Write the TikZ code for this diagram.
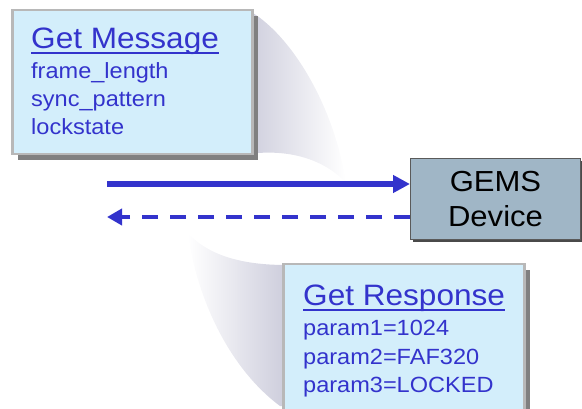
\documentclass[tikz,border=0pt]{standalone}
\usepackage{fontspec}
\setmainfont{Liberation Sans}[FakeStretch=1.07]
\usetikzlibrary{arrows.meta,shadows}

\definecolor{ink}{HTML}{3333CC}
\definecolor{panelfill}{HTML}{D3EEFB}
\definecolor{panelrim}{HTML}{B8B8B8}
\definecolor{panelshade}{HTML}{808080}
\definecolor{devfill}{HTML}{A0B6C6}
\definecolor{devrim}{HTML}{5A5A5A}
\definecolor{devshade}{HTML}{4A4A4A}
\definecolor{wedgegray}{HTML}{CDCDDC}

\newcommand\panelheadfont{\fontsize{29.5}{35}\selectfont}
\newcommand\panelbodyfont{\fontsize{22}{28}\selectfont}
\newcommand\devicefont{\fontsize{29}{35}\selectfont}

\tikzset{
  panel/.style={fill=panelfill, draw=panelrim, line width=2.5pt, inner sep=0,
    anchor=north west,
    drop shadow={shadow xshift=6pt, shadow yshift=-6pt, fill=panelshade, opacity=1}},
  devbox/.style={fill=devfill, draw=devrim, line width=1pt, inner sep=0,
    anchor=north west, align=center, font=\devicefont,
    drop shadow={shadow xshift=2pt, shadow yshift=-3pt, fill=devshade, opacity=1}},
  txt/.style={inner sep=0, anchor=base west, text=ink},
  headtxt/.style={txt, font=\panelheadfont},
  bodytxt/.style={txt, font=\panelbodyfont},
  uline/.style={draw=ink, line width=2pt},
  sendarrow/.style={draw=ink, line width=6pt,
    -{Triangle[length=17pt, width=17pt]}},
  replyarrow/.style={draw=ink, line width=4.5pt, dash pattern=on 16pt off 12pt,
    -{Triangle[length=15pt, width=16pt]}},
}

\begin{document}
\begin{tikzpicture}[x=1pt, y=-1pt]
  \useasboundingbox (0,0) rectangle (582,409);

  % fading callout wedges
  \shade[left color=wedgegray, right color=white]
    (245,13) -- (253,13) .. controls (295,40) and (335,110) .. (346,183)
    .. controls (330,165) and (300,150) .. (258,153) -- (245,153) -- cycle;
  \shade[left color=white, right color=wedgegray]
    (188,233) .. controls (205,252) and (235,265) .. (286,265) -- (286,406)
    -- (280,406) .. controls (225,365) and (195,290) .. (188,233) -- cycle;

  % device
  \node[devbox, minimum width=170pt, minimum height=81pt] (dev) at (410,158)
    {GEMS\\Device};

  % message flow
  \coordinate (sendfrom) at (107,184);
  \coordinate (replyto) at (107,217);
  \draw[sendarrow] (sendfrom) -- (sendfrom -| dev.west);
  \draw[replyarrow] (replyto -| dev.west) -- (replyto);

  % request panel
  \node[panel, minimum width=240pt, minimum height=144pt] (msg) at (11,9) {};
  \node[headtxt] (msghead) at (31,49) {Get Message};
  \draw[uline] ([yshift=-4.5pt]msghead.base west) -- ([yshift=-4.5pt]msghead.base east);
  \node[bodytxt] (msgl1) at (31,79)  {frame\_length};
  \node[bodytxt] (msgl2) at (31,107) {sync\_pattern};
  \node[bodytxt] (msgl3) at (31,135) {lockstate};

  % response panel
  \node[panel, minimum width=241pt, minimum height=150pt] (resp) at (282,263) {};
  \node[headtxt] (resphead) at (303,306) {Get Response};
  \draw[uline] ([yshift=-4pt]resphead.base west) -- ([yshift=-4pt]resphead.base east);
  \node[bodytxt] (respl1) at (303,336) {param1=1024};
  \node[bodytxt] (respl2) at (303,364) {param2=FAF320};
  \node[bodytxt] (respl3) at (303,392) {param3=LOCKED};
\end{tikzpicture}
\end{document}
